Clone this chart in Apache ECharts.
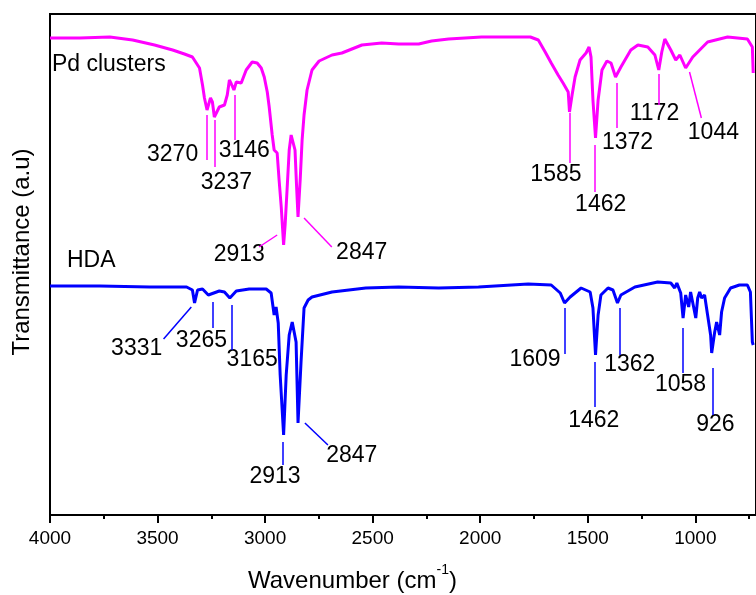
<!DOCTYPE html>
<html>
<head>
<meta charset="utf-8">
<script src="https://cdn.jsdelivr.net/npm/echarts@6/dist/echarts.min.js"></script>
<style>
  html, body { margin: 0; padding: 0; background: #fff; }
  #main { width: 756px; height: 595px; }
</style>
</head>
<body>
<div id="main"></div>
<script>
// Espectro Pd clusters [numero de onda, transmitancia]
var pdClusters = [
  [4000, 95.4], [3861, 95.4], [3722, 95.6], [3616, 95.0], [3514, 94.0], [3430, 93.0],
  [3375, 92.2], [3338, 91.6], [3305, 89.4], [3291, 86.0], [3282, 83.4], [3270, 81.0],
  [3254, 83.4], [3245, 82.6], [3236, 79.6], [3213, 81.6], [3189, 82.0], [3176, 84.0],
  [3166, 87.0], [3157, 86.2], [3145, 85.0], [3134, 86.6], [3125, 87.0], [3111, 86.4],
  [3088, 89.0], [3060, 90.6], [3037, 90.4], [3018, 89.4], [3004, 87.6], [2990, 84.6],
  [2981, 81.6], [2967, 76.0], [2958, 73.0], [2944, 72.4], [2935, 67.0], [2925, 61.6],
  [2914, 54.0], [2907, 58.0], [2898, 65.0], [2888, 73.0], [2879, 76.0], [2870, 75.6],
  [2861, 73.0], [2854, 66.0], [2847, 59.6], [2837, 67.0], [2828, 75.0], [2819, 80.0],
  [2805, 85.0], [2782, 89.0], [2749, 90.8], [2689, 92.0], [2643, 92.4], [2550, 94.0],
  [2458, 94.4], [2379, 94.2], [2286, 94.2], [2226, 94.8], [2147, 95.2], [1994, 95.6],
  [1837, 95.6], [1767, 95.6], [1730, 95.0], [1698, 92.6], [1670, 90.4], [1638, 88.0],
  [1615, 86.4], [1591, 84.6], [1585, 80.6], [1573, 84.0], [1559, 87.6], [1536, 91.0],
  [1508, 92.4], [1494, 93.6], [1485, 91.6], [1476, 83.0], [1464, 75.4], [1452, 83.0],
  [1434, 89.0], [1411, 90.8], [1392, 90.4], [1371, 87.6], [1346, 89.6], [1300, 93.0],
  [1267, 94.0], [1221, 93.6], [1188, 92.0], [1170, 89.0], [1156, 92.6], [1142, 95.2],
  [1114, 93.0], [1091, 91.0], [1072, 92.0], [1045, 89.4], [1012, 91.6], [943, 94.6],
  [850, 95.6], [758, 95.2], [735, 93.6], [731, 88.4]
];

// Espectro HDA
var hda = [
  [4000, 45.8], [3768, 45.8], [3537, 45.6], [3365, 45.6], [3338, 45.0], [3328, 42.4],
  [3314, 45.0], [3291, 45.2], [3264, 44.0], [3213, 44.8], [3189, 44.6], [3164, 43.4],
  [3134, 44.8], [3074, 45.2], [2995, 45.2], [2972, 44.4], [2958, 40.0], [2949, 41.6],
  [2939, 38.4], [2930, 28.0], [2914, 16.0], [2902, 28.0], [2888, 36.0], [2874, 38.6],
  [2865, 38.4], [2856, 34.6], [2847, 18.4], [2833, 30.6], [2819, 41.4], [2800, 43.0],
  [2782, 43.6], [2689, 44.6], [2532, 45.4], [2379, 45.6], [2193, 45.4], [2008, 45.6],
  [1777, 46.2], [1670, 46.0], [1628, 44.4], [1608, 42.4], [1582, 43.6], [1531, 45.4],
  [1489, 44.6], [1476, 41.4], [1464, 32.0], [1452, 40.0], [1439, 44.0], [1406, 45.4],
  [1383, 45.0], [1362, 42.4], [1346, 44.0], [1281, 45.6], [1175, 46.6], [1114, 46.4],
  [1096, 45.4], [1086, 46.4], [1068, 44.4], [1057, 39.4], [1045, 44.0], [1031, 41.6],
  [1022, 44.6], [1008, 41.6], [998, 39.4], [989, 43.4], [980, 44.6], [971, 43.4],
  [957, 44.0], [943, 40.0], [929, 36.0], [924, 32.4], [910, 36.6], [901, 38.6],
  [887, 36.0], [878, 40.6], [864, 43.4], [836, 45.4], [795, 46.0], [758, 46.0],
  [744, 44.6], [735, 34.6], [731, 34.0]
];

// Lineas de los picos [x1, y1, x2, y2]
var pdPeakLines = [
  [3270, 80, 3270, 71], [3233, 79, 3233, 69.6], [3140, 84, 3140, 75],
  [2944, 56, 3028, 53.6], [2819, 59.4, 2690, 53.6], [1583, 80.4, 1583, 70.4],
  [1467, 74, 1467, 64.6], [1365, 86.4, 1365, 77.4], [1171, 88.2, 1171, 82],
  [1027, 88.6, 972, 79.4]
];
var hdaPeakLines = [
  [3343, 41.6, 3472, 35.2], [3245, 42.6, 3245, 37.4], [3153, 42, 3153, 33],
  [2917, 14.6, 2917, 10], [2815, 18.4, 2708, 14], [1606, 41.4, 1606, 32.2],
  [1467, 30.6, 1467, 21.6], [1352, 41.4, 1352, 32], [1060, 37.4, 1060, 28.4],
  [921, 29.4, 921, 20]
];

// Etiquetas de los picos [x, y, texto]
var pdPeakLabels = [
  [3430, 72, '3270'], [3180, 66.4, '3237'], [3097, 72.8, '3146'], [3120, 52, '2913'],
  [2551, 52.4, '2847'], [1648, 68, '1585'], [1440, 62, '1462'], [1315, 74.4, '1372'],
  [1190, 80.2, '1172'], [916, 76.4, '1044']
];
var hdaPeakLabels = [
  [3597, 33.2, '3331'], [3296, 34.8, '3265'], [3060, 31, '3165'], [2954, 7.6, '2913'],
  [2597, 11.8, '2847'], [1745, 31, '1609'], [1472, 18.8, '1462'], [1305, 30, '1362'],
  [1069, 26, '1058'], [907, 18, '926']
];
var sampleNames = [[3991, 90, 'Pd clusters'], [3921, 50.8, 'HDA']];

var majorTicks = [4000, 3500, 3000, 2500, 2000, 1500, 1000];
var minorTicks = [3750, 3250, 2750, 2250, 1750, 1250, 750];

var fuente = 'Liberation Sans, Arial, sans-serif';

function toPairs(lines) {
  return lines.map(function (l) {
    return [{ coord: [l[0], l[1]] }, { coord: [l[2], l[3]] }];
  });
}

function labelSeries(data, align) {
  return {
    type: 'scatter',
    symbolSize: 0,
    silent: true,
    data: data,
    itemStyle: { opacity: 1 },
    label: {
      show: true,
      position: [0, 0],
      align: align,
      verticalAlign: 'middle',
      formatter: function (p) { return p.data[2]; },
      color: '#000',
      opacity: 1,
      textBorderWidth: 0,
      fontFamily: fuente,
      fontSize: 23
    }
  };
}

var grafico = echarts.init(document.getElementById('main'));

var option = {
  animation: false,
  backgroundColor: '#fff',
  grid: {
    left: 50, right: -3, top: 14, bottom: 80,
    show: true, borderColor: '#000', borderWidth: 2
  },
  xAxis: [{
    type: 'value',
    inverse: true,
    min: 718,
    max: 4000,
    position: 'bottom',
    axisLine: { show: false },
    splitLine: { show: false },
    axisTick: {
      show: true, length: 8, customValues: majorTicks,
      lineStyle: { color: '#000', width: 2 }
    },
    axisLabel: {
      customValues: majorTicks, margin: 14,
      formatter: function (v) { return String(v); },
      color: '#000', fontFamily: fuente, fontSize: 19
    }
  }, {
    type: 'value',
    inverse: true,
    min: 718,
    max: 4000,
    position: 'bottom',
    axisLine: { show: false },
    splitLine: { show: false },
    axisLabel: { show: false },
    axisTick: {
      show: true, length: 4, customValues: minorTicks,
      lineStyle: { color: '#000', width: 2 }
    }
  }],
  yAxis: {
    type: 'value',
    min: 0,
    max: 100.2,
    axisLine: { show: false },
    axisTick: { show: false },
    axisLabel: { show: false },
    splitLine: { show: false }
  },
  graphic: [{
    type: 'text',
    x: 248, y: 578,
    style: {
      text: '{a|Wavenumber (cm}{b|-1}{a|)}',
      verticalAlign: 'middle',
      rich: {
        a: { fontFamily: fuente, fontSize: 24, lineHeight: 30, fill: '#000', verticalAlign: 'bottom' },
        b: { fontFamily: fuente, fontSize: 14, lineHeight: 30, fill: '#000', verticalAlign: 'top' }
      }
    }
  }, {
    type: 'text',
    x: 22, y: 252,
    rotation: Math.PI / 2,
    style: {
      text: 'Transmittance (a.u)',
      fontFamily: fuente, fontSize: 24, fill: '#000',
      align: 'center', verticalAlign: 'middle'
    }
  }],
  series: [{
    name: 'Pd clusters',
    type: 'line',
    symbol: 'none',
    data: pdClusters,
    lineStyle: { color: '#ff00ff', width: 3 },
    markLine: {
      silent: true, symbol: 'none', label: { show: false },
      lineStyle: { color: '#ff00ff', width: 1.5, type: 'solid' },
      data: toPairs(pdPeakLines)
    }
  }, {
    name: 'HDA',
    type: 'line',
    symbol: 'none',
    data: hda,
    lineStyle: { color: '#0000ff', width: 3 },
    markLine: {
      silent: true, symbol: 'none', label: { show: false },
      lineStyle: { color: '#0000ff', width: 1.5, type: 'solid' },
      data: toPairs(hdaPeakLines)
    }
  },
  labelSeries(pdPeakLabels, 'center'),
  labelSeries(hdaPeakLabels, 'center'),
  labelSeries(sampleNames, 'left')
  ]
};

grafico.setOption(option);
</script>
</body>
</html>
